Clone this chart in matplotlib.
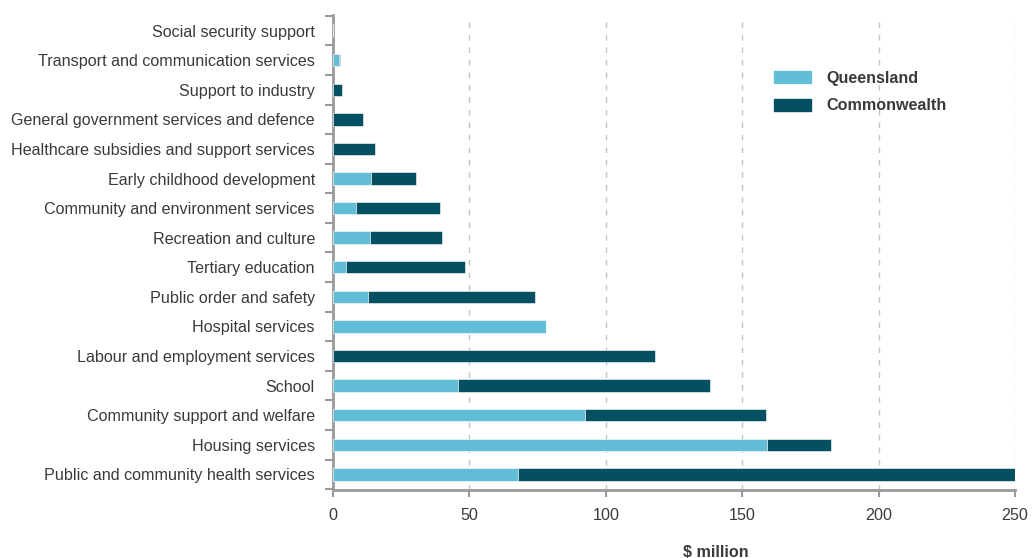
import numpy as np
import matplotlib.pyplot as plt
from matplotlib.patches import Patch

plt.rcParams['font.family'] = ['Liberation Sans', 'DejaVu Sans']

categories = [
    "Social security support",
    "Transport and communication services",
    "Support to industry",
    "General government services and defence",
    "Healthcare subsidies and support services",
    "Early childhood development",
    "Community and environment services",
    "Recreation and culture",
    "Tertiary education",
    "Public order and safety",
    "Hospital services",
    "Labour and employment services",
    "School",
    "Community support and welfare",
    "Housing services",
    "Public and community health services",
]
queensland = [0, 2.2, 0, 0, 0, 14.0, 8.3, 13.4, 4.6, 12.8, 78.1, 0, 45.8, 92.3, 159.2, 67.9]
commonwealth = [0, 0.5, 3.3, 10.9, 15.3, 16.5, 31.0, 26.7, 43.7, 61.4, 0, 118.0, 92.5, 66.3, 23.4, 182.1]

q_col = "#62BED6"
c_col = "#054F63"
grey = "#9a9a9a"
txt = "#3a3a3a"

fig = plt.figure(figsize=(10.32, 5.58), dpi=100)
ax = fig.add_axes([0.3227, 0.1219, 0.6608, 0.8518])

y = np.arange(len(categories))
h = 0.42
ax.barh(y, queensland, height=h, color=q_col, edgecolor="white", linewidth=0.4, zorder=3)
ax.barh(y, commonwealth, left=queensland, height=h, color=c_col, edgecolor="white", linewidth=0.4, zorder=3)

ax.set_xlim(0, 250)
ax.set_ylim(len(categories) - 0.47, -0.54)
ax.set_yticks(y)
ax.set_yticklabels(categories, fontsize=11.6, color=txt)
ax.set_yticks(np.arange(-0.5, len(categories), 1), minor=True)
ax.tick_params(axis="y", which="major", length=0, pad=13)
ax.tick_params(axis="y", which="minor", length=6, width=1.5, color=grey)

ax.set_xticks([0, 50, 100, 150, 200, 250])
ax.tick_params(axis="x", length=5, width=1.5, color=grey, labelsize=11.6, labelcolor=txt, pad=8)
for v in [50, 100, 150, 200, 250]:
    ax.axvline(v, color="#c4c4c4", linestyle=(0, (4, 5)), linewidth=1.0, zorder=1)

for s in ["top", "right"]:
    ax.spines[s].set_visible(False)
for s in ["left", "bottom"]:
    ax.spines[s].set_color(grey)
    ax.spines[s].set_linewidth(2)

ax.set_xlabel(r"\$ million", fontsize=11.6, fontweight="bold", color=txt)
ax.xaxis.set_label_coords(0.5616, -0.115)

handles = [Patch(color=q_col, label="Queensland"), Patch(color=c_col, label="Commonwealth")]
leg = ax.legend(handles=handles, loc="upper left", bbox_to_anchor=(0.626, 0.913), frameon=False,
                handlelength=2.25, handleheight=0.8, handletextpad=0.95, labelspacing=0.8,
                prop={"size": 11.6, "weight": "bold"})
for t in leg.get_texts():
    t.set_color(txt)

fig.savefig("out.png", dpi=100)
